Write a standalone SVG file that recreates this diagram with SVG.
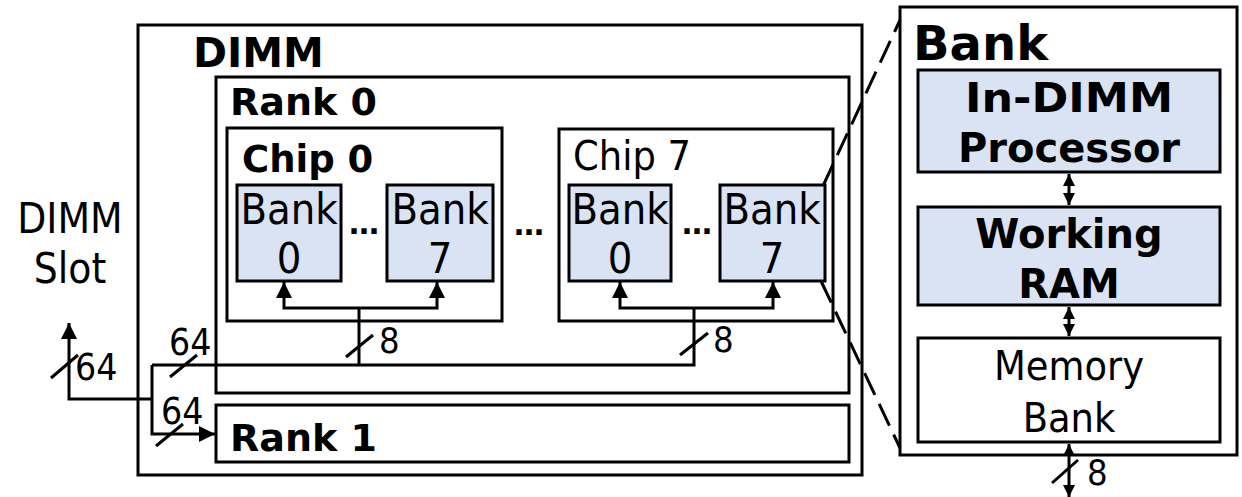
<svg xmlns="http://www.w3.org/2000/svg" width="1242" height="497" viewBox="0 0 1242 497">
<style>
.box{fill:#fff;stroke:#000;stroke-width:3}
.blue{fill:#dae3f3;stroke:#000;stroke-width:3}
.b{font-family:"DejaVu Sans","Verdana",sans-serif;font-weight:bold;fill:#000}
.r{font-family:"DejaVu Sans Condensed","DejaVu Sans",sans-serif;font-stretch:condensed;fill:#000}
.ln{fill:none;stroke:#000;stroke-width:3}
.thin{fill:none;stroke:#000;stroke-width:3}
.dash{fill:none;stroke:#000;stroke-width:3;stroke-dasharray:24 10}
</style>
<defs>
<marker id="ah" markerUnits="userSpaceOnUse" markerWidth="18" markerHeight="18" refX="16" refY="8" orient="auto">
<path d="M0,0 L16,8 L0,16 z" fill="#000"/>
</marker>
<marker id="as" markerUnits="userSpaceOnUse" markerWidth="14" markerHeight="14" refX="12" refY="6" orient="auto-start-reverse">
<path d="M0,0 L12,6 L0,12 z" fill="#000"/>
</marker>
</defs>
<g id="dimm">
<rect class="box" x="138" y="25" width="724" height="450"/>
<text class="b" x="193" y="67" font-size="41">DIMM</text>
</g>
<g id="rank0">
<rect class="box" x="216" y="77" width="633" height="316"/>
<text class="b" x="230" y="115" font-size="38">Rank 0</text>
</g>
<g id="rank1">
<rect class="box" x="216" y="405" width="633" height="57"/>
<text class="b" x="230" y="451" font-size="38">Rank 1</text>
</g>
<g id="chip0">
<rect class="box" x="227" y="128" width="275" height="193"/>
<text class="b" x="242" y="172" font-size="37">Chip 0</text>
</g>
<g id="chip7">
<rect class="box" x="559" y="129" width="274" height="192"/>
<text class="r" x="573" y="170" font-size="41">Chip 7</text>
</g>
<g id="c0bank0">
<rect class="blue" x="237" y="185" width="104" height="96"/>
<text class="r" x="289" y="224" font-size="43" text-anchor="middle">Bank</text>
<text class="r" x="289" y="273" font-size="43" text-anchor="middle">0</text>
</g>
<g id="c0bank7">
<rect class="blue" x="387" y="185" width="106" height="96"/>
<text class="r" x="440" y="224" font-size="43" text-anchor="middle">Bank</text>
<text class="r" x="440" y="273" font-size="43" text-anchor="middle">7</text>
</g>
<g id="c7bank0">
<rect class="blue" x="569" y="185" width="102" height="96"/>
<text class="r" x="620" y="224" font-size="43" text-anchor="middle">Bank</text>
<text class="r" x="620" y="273" font-size="43" text-anchor="middle">0</text>
</g>
<g id="c7bank7">
<rect class="blue" x="720" y="185" width="105" height="96"/>
<text class="r" x="772" y="224" font-size="43" text-anchor="middle">Bank</text>
<text class="r" x="772" y="273" font-size="43" text-anchor="middle">7</text>
</g>
<g id="ellipses">
<text class="b" x="364" y="234" font-size="30" text-anchor="middle">…</text>
<text class="b" x="529" y="235" font-size="30" text-anchor="middle">…</text>
<text class="b" x="697" y="234" font-size="30" text-anchor="middle">…</text>
</g>
<g id="slot">
<text class="r" x="70" y="233" font-size="42" text-anchor="middle">DIMM</text>
<text class="r" x="70" y="283" font-size="42" text-anchor="middle">Slot</text>
</g>
<g id="bank">
<rect class="box" x="900" y="7" width="337" height="448"/>
<text class="b" x="913" y="60" font-size="48">Bank</text>
</g>
<g id="proc">
<rect class="blue" x="918" y="70" width="302" height="102"/>
<text class="b" x="1069" y="112" font-size="40" text-anchor="middle" textLength="208" lengthAdjust="spacingAndGlyphs">In-DIMM</text>
<text class="b" x="1069" y="162" font-size="40" text-anchor="middle">Processor</text>
</g>
<g id="wram">
<rect class="blue" x="918" y="207" width="302" height="98"/>
<text class="b" x="1069" y="248" font-size="40" text-anchor="middle">Working</text>
<text class="b" x="1069" y="298" font-size="40" text-anchor="middle">RAM</text>
</g>
<g id="membank">
<rect class="box" x="918" y="338" width="302" height="104"/>
<text class="r" x="1069" y="380" font-size="41" text-anchor="middle">Memory</text>
<text class="r" x="1069" y="432" font-size="41" text-anchor="middle">Bank</text>
</g>
<g id="connectors">
<path class="ln" d="M152,399 H69 V323" marker-end="url(#ah)"/>
<path class="ln" d="M152,365 V434 H215" marker-end="url(#ah)"/>
<path class="ln" d="M152,365 H694 V308"/>
<path class="ln" d="M359,365 V308"/>
<path class="ln" d="M359,308 H284 V282" marker-end="url(#ah)"/>
<path class="ln" d="M359,308 H437 V282" marker-end="url(#ah)"/>
<path class="ln" d="M694,308 H620 V282" marker-end="url(#ah)"/>
<path class="ln" d="M694,308 H773 V282" marker-end="url(#ah)"/>
<path class="ln" d="M51,378 L78,355 M170,377 L197,355 M156,446 L183,424 M346,357 L373,335 M680,355 L708,333"/>
<path class="thin" d="M1069,174 V205" marker-start="url(#as)" marker-end="url(#as)"/>
<path class="thin" d="M1069,307 V336" marker-start="url(#as)" marker-end="url(#as)"/>
<path class="thin" d="M1069,444 V497" marker-start="url(#as)" marker-end="url(#as)"/>
<path class="thin" d="M1052,483 L1078,460"/>
<path class="dash" d="M823,186 L900,20"/>
<path class="dash" d="M821,281 L900,448"/>
<text class="r" x="75" y="380" font-size="37">64</text>
<text class="r" x="169" y="355" font-size="37">64</text>
<text class="r" x="161" y="424" font-size="37">64</text>
<text class="r" x="379" y="353" font-size="36">8</text>
<text class="r" x="713" y="352" font-size="36">8</text>
<text class="r" x="1087" y="485" font-size="36">8</text>
</g>
</svg>
